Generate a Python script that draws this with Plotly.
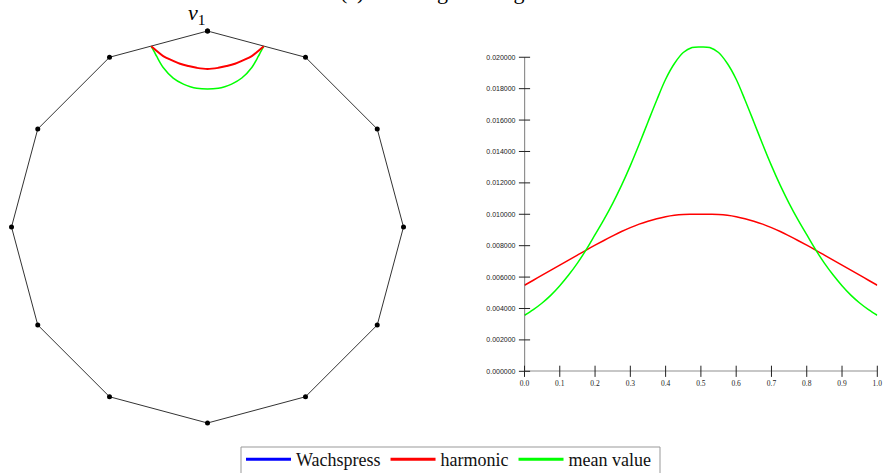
import plotly.graph_objects as go

# ---------------- data ----------------
# regular 12-gon (unit circumradius), v1 on top
POLY_X = [0, -0.5, -0.866, -1, -0.866, -0.5, 0, 0.5, 0.866, 1, 0.866, 0.5]
POLY_Y = [1, 0.866, 0.5, 0, -0.5, -0.866, -1, -0.866, -0.5, 0, 0.5, 0.866]

# curves drawn inside the polygon near v1
HARM_ARC_X = [-0.287, -0.259, -0.226, -0.183, -0.140, -0.097, -0.055, 0.0,
              0.055, 0.097, 0.140, 0.183, 0.226, 0.259, 0.287]
HARM_ARC_Y = [0.922, 0.898, 0.872, 0.851, 0.833, 0.821, 0.812, 0.806,
              0.812, 0.821, 0.833, 0.851, 0.872, 0.898, 0.922]
MV_ARC_X = [-0.287, -0.272, -0.259, -0.226, -0.175, -0.123, -0.088, -0.055, 0.0,
            0.055, 0.088, 0.123, 0.175, 0.226, 0.259, 0.272, 0.287]
MV_ARC_Y = [0.922, 0.895, 0.870, 0.814, 0.760, 0.729, 0.716, 0.708, 0.704,
            0.708, 0.716, 0.729, 0.760, 0.814, 0.870, 0.895, 0.922]

# weight along the curve parameter t
T = [0.0, 0.025, 0.05, 0.075, 0.1, 0.125, 0.15, 0.175, 0.2, 0.225, 0.25,
     0.275, 0.3, 0.325, 0.35, 0.375, 0.4, 0.425, 0.45, 0.475, 0.5,
     0.525, 0.55, 0.575, 0.6, 0.625, 0.65, 0.675, 0.7, 0.725, 0.75,
     0.775, 0.8, 0.825, 0.85, 0.875, 0.9, 0.925, 0.95, 0.975, 1.0]
HARMONIC = [0.00548, 0.00580, 0.00612, 0.00644, 0.00676, 0.00708, 0.00740,
            0.00772, 0.00803, 0.00833, 0.00862, 0.00890, 0.00915, 0.00937,
            0.00956, 0.00972, 0.00985, 0.00994, 0.00999, 0.01000, 0.01000,
            0.01000, 0.00999, 0.00994, 0.00985, 0.00972, 0.00956, 0.00937,
            0.00915, 0.00890, 0.00862, 0.00833, 0.00803, 0.00772, 0.00740,
            0.00708, 0.00676, 0.00644, 0.00612, 0.00580, 0.00548]
MEAN_VALUE = [0.00357, 0.00393, 0.00435, 0.00485, 0.00545, 0.00613, 0.00689,
              0.00775, 0.00870, 0.00966, 0.01070, 0.01184, 0.01310, 0.01446,
              0.01588, 0.01728, 0.01860, 0.01960, 0.02030, 0.02062, 0.02066,
              0.02062, 0.02030, 0.01960, 0.01860, 0.01728, 0.01588, 0.01446,
              0.01310, 0.01184, 0.01070, 0.00966, 0.00870, 0.00775, 0.00689,
              0.00613, 0.00545, 0.00485, 0.00435, 0.00393, 0.00357]

X_TICKS = [0.0, 0.1, 0.2, 0.3, 0.4, 0.5, 0.6, 0.7, 0.8, 0.9, 1.0]
X_TICK_TEXT = ["0.0", "0.1", "0.2", "0.3", "0.4", "0.5", "0.6", "0.7", "0.8", "0.9", "1.0"]
Y_TICKS = [0.0, 0.002, 0.004, 0.006, 0.008, 0.010, 0.012, 0.014, 0.016, 0.018, 0.020]
Y_TICK_TEXT = ["0.000000", "0.002000", "0.004000", "0.006000", "0.008000", "0.010000",
               "0.012000", "0.014000", "0.016000", "0.018000", "0.020000"]

SERIES_NAMES = ["Wachspress", "harmonic", "mean value"]
COLORS = {"Wachspress": "#0000ff", "harmonic": "#ff0000", "mean value": "#00ff00"}

# ---------------- figure ----------------
W, H = 883, 473
fig = go.Figure()

# left panel: polygon
fig.add_trace(go.Scatter(
    x=POLY_X + POLY_X[:1], y=POLY_Y + POLY_Y[:1], mode="lines+markers",
    line=dict(color="#333333", width=1), marker=dict(color="black", size=5),
    xaxis="x2", yaxis="y2", showlegend=False, hoverinfo="skip"))

fig.add_trace(go.Scatter(
    x=MV_ARC_X, y=MV_ARC_Y, mode="lines",
    line=dict(color=COLORS["mean value"], width=1.5, shape="spline", smoothing=1.0),
    xaxis="x2", yaxis="y2", showlegend=False, hoverinfo="skip"))
fig.add_trace(go.Scatter(
    x=HARM_ARC_X, y=HARM_ARC_Y, mode="lines",
    line=dict(color=COLORS["harmonic"], width=2, shape="spline", smoothing=1.0),
    xaxis="x2", yaxis="y2", showlegend=False, hoverinfo="skip"))

# right panel curves
fig.add_trace(go.Scatter(x=T, y=HARMONIC, mode="lines", name="harmonic", showlegend=False,
                         line=dict(color=COLORS["harmonic"], width=1.5, shape="spline", smoothing=1.0)))
fig.add_trace(go.Scatter(x=T, y=MEAN_VALUE, mode="lines", name="mean value", showlegend=False,
                         line=dict(color=COLORS["mean value"], width=1.5, shape="spline", smoothing=1.0)))

# legend entries (thick sample lines)
for name in SERIES_NAMES:
    fig.add_trace(go.Scatter(x=[None], y=[None], mode="lines", name=name,
                             line=dict(color=COLORS[name], width=3)))

# crossing tick marks
fig.add_trace(go.Scatter(x=[X_TICKS[0]] * len(Y_TICKS), y=Y_TICKS, mode="markers",
                         marker=dict(symbol="line-ew", size=8, line=dict(color="#222222", width=1)),
                         cliponaxis=False, showlegend=False, hoverinfo="skip"))
fig.add_trace(go.Scatter(x=X_TICKS, y=[Y_TICKS[0]] * len(X_TICKS), mode="markers",
                         marker=dict(symbol="line-ns", size=8, line=dict(color="#222222", width=1)),
                         cliponaxis=False, showlegend=False, hoverinfo="skip"))

# axis lines
fig.add_shape(type="line", xref="x", yref="y", x0=X_TICKS[0], x1=X_TICKS[0],
              y0=Y_TICKS[0], y1=Y_TICKS[-1], line=dict(color="#222222", width=1.2))
fig.add_shape(type="line", xref="x", yref="y", x0=X_TICKS[0], x1=X_TICKS[-1],
              y0=Y_TICKS[0], y1=Y_TICKS[0], line=dict(color="#222222", width=1.2))

# legend frame (bottom edge falls outside the picture, as in the original)
fig.add_shape(type="rect", xref="paper", yref="paper",
              x0=241 / W, x1=660 / W, y0=-20 / H, y1=1 - 447 / H,
              line=dict(color="#999999", width=1), fillcolor="rgba(0,0,0,0)", layer="above")

# geometry of panels
R_PX = 196.0
CX_PX, CY_PX = 207.5, 227.0
left_w = 415
fig.update_layout(
    width=W, height=H,
    margin=dict(l=0, r=0, t=0, b=0, autoexpand=False),
    paper_bgcolor="white", plot_bgcolor="rgba(0,0,0,0)",
    xaxis=dict(domain=[524.5 / W, 877.3 / W], range=[0, 1],
               tickvals=X_TICKS, ticktext=X_TICK_TEXT, ticks="", showgrid=False,
               zeroline=False, showline=False, ticklabelstandoff=6,
               tickfont=dict(family="Liberation Serif", size=7.5, color="#222222")),
    yaxis=dict(domain=[(H - 371.3) / H, (H - 44.7) / H], range=[0, 0.0208],
               tickvals=Y_TICKS, ticktext=Y_TICK_TEXT, ticks="", showgrid=False,
               zeroline=False, showline=False, ticklabelstandoff=8,
               tickfont=dict(family="Liberation Sans", size=7, color="#222222")),
    xaxis2=dict(domain=[0, left_w / W], range=[-CX_PX / R_PX, (left_w - CX_PX) / R_PX],
                visible=False),
    yaxis2=dict(domain=[0, 1], range=[(CY_PX - H) / R_PX, CY_PX / R_PX], visible=False),
    showlegend=True,
    legend=dict(orientation="h", x=241 / W, xanchor="left", y=1 - 441 / H, yanchor="top",
                bgcolor="rgba(0,0,0,0)", borderwidth=0,
                font=dict(family="Liberation Serif", size=18, color="#111111"),
                itemwidth=45, traceorder="normal"),
)

# v1 label
fig.add_annotation(x=POLY_X[0], y=POLY_Y[0], xref="x2", yref="y2",
                   text="<i>v</i><sub>1</sub>", showarrow=False,
                   xshift=-11, yshift=17,
                   font=dict(family="Liberation Serif", size=22, color="black"))

# caption (mostly above the visible area)
fig.add_annotation(x=338 / W, y=1 - 6 / H, xref="paper", yref="paper",
                   xanchor="left", yanchor="bottom", showarrow=False,
                   text="(c) Dodecagon along the side",
                   font=dict(family="Liberation Serif", size=22, color="black"))

fig.write_html("out.html", config={"displayModeBar": False},
               post_script="document.body.style.margin='0';document.body.style.overflow='hidden';")
